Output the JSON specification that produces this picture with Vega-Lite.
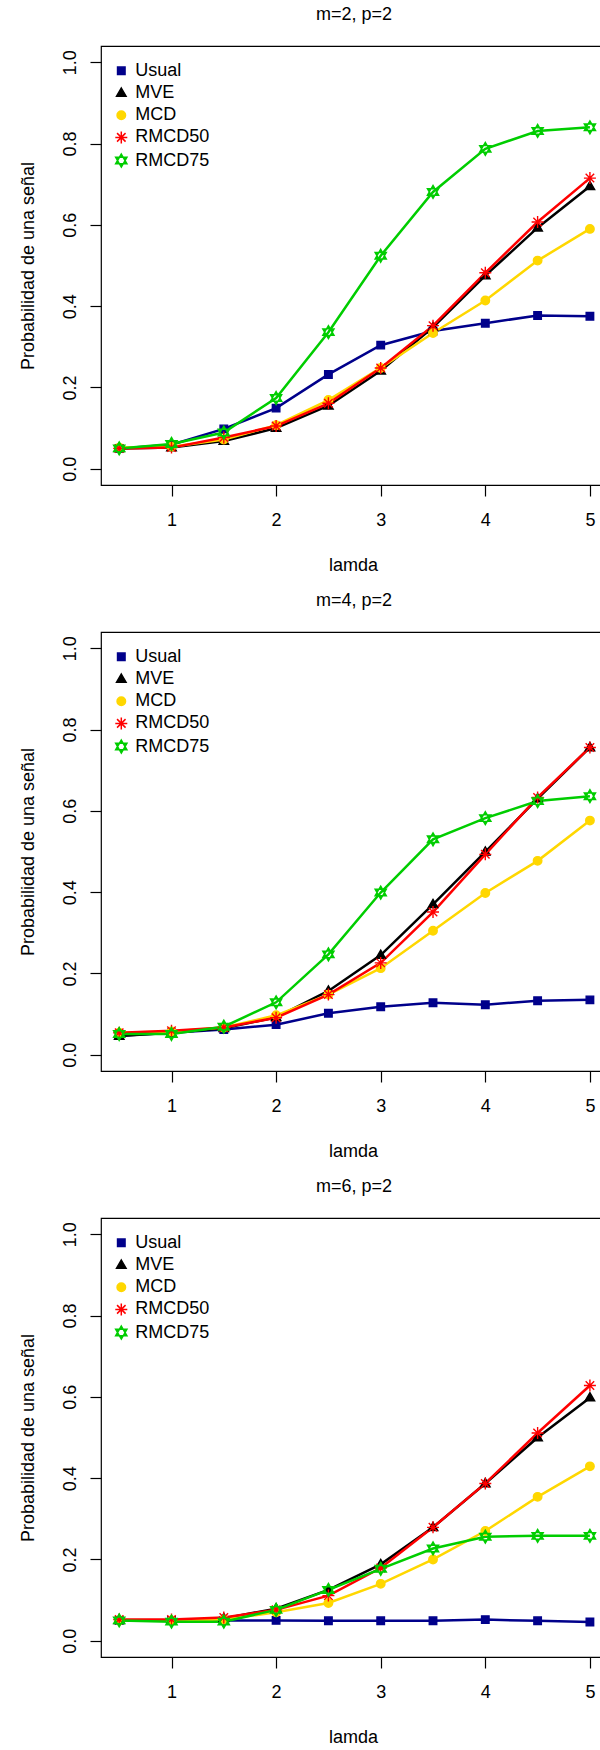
{
  "$schema": "https://vega.github.io/schema/vega-lite/v6.json",
  "padding": {"left": 18, "top": 5, "right": 0, "bottom": 0},
  "background": "white",
  "spacing": 16,
  "config": {
    "font": "Liberation Sans",
    "view": {"stroke": "black", "strokeWidth": 1.2},
    "axis": {"grid": false, "domain": false, "tickColor": "black", "tickWidth": 1.2, "tickSize": 11, "labelFontSize": 18, "titleFontSize": 18, "labelColor": "black", "titleColor": "black", "titleFontWeight": "normal", "labelFont": "Liberation Sans", "titleFont": "Liberation Sans"},
    "title": {"fontSize": 18, "fontWeight": "normal", "offset": 22, "color": "black", "font": "Liberation Sans", "anchor": "middle", "frame": "group", "dx": 3},
    "legend": {"symbolStrokeWidth": 1.5, "labelFontSize": 18, "labelColor": "black", "labelFont": "Liberation Sans", "title": null}
  },
  "resolve": {"scale": {"color": "independent", "stroke": "independent", "shape": "independent", "fillOpacity": "independent"}, "legend": {"color": "independent", "stroke": "independent", "shape": "independent", "fillOpacity": "independent"}},
  "datasets": {
    "d": [
      {"panel": 1, "series": "Usual", "lamda": 0.5, "prob": 0.050},
      {"panel": 1, "series": "Usual", "lamda": 1.0, "prob": 0.059},
      {"panel": 1, "series": "Usual", "lamda": 1.5, "prob": 0.098},
      {"panel": 1, "series": "Usual", "lamda": 2.0, "prob": 0.149},
      {"panel": 1, "series": "Usual", "lamda": 2.5, "prob": 0.232},
      {"panel": 1, "series": "Usual", "lamda": 3.0, "prob": 0.304},
      {"panel": 1, "series": "Usual", "lamda": 3.5, "prob": 0.339},
      {"panel": 1, "series": "Usual", "lamda": 4.0, "prob": 0.358},
      {"panel": 1, "series": "Usual", "lamda": 4.5, "prob": 0.377},
      {"panel": 1, "series": "Usual", "lamda": 5.0, "prob": 0.375},
      {"panel": 1, "series": "MVE", "lamda": 0.5, "prob": 0.050},
      {"panel": 1, "series": "MVE", "lamda": 1.0, "prob": 0.052},
      {"panel": 1, "series": "MVE", "lamda": 1.5, "prob": 0.068},
      {"panel": 1, "series": "MVE", "lamda": 2.0, "prob": 0.100},
      {"panel": 1, "series": "MVE", "lamda": 2.5, "prob": 0.155},
      {"panel": 1, "series": "MVE", "lamda": 3.0, "prob": 0.241},
      {"panel": 1, "series": "MVE", "lamda": 3.5, "prob": 0.348},
      {"panel": 1, "series": "MVE", "lamda": 4.0, "prob": 0.475},
      {"panel": 1, "series": "MVE", "lamda": 4.5, "prob": 0.593},
      {"panel": 1, "series": "MVE", "lamda": 5.0, "prob": 0.695},
      {"panel": 1, "series": "MCD", "lamda": 0.5, "prob": 0.052},
      {"panel": 1, "series": "MCD", "lamda": 1.0, "prob": 0.054},
      {"panel": 1, "series": "MCD", "lamda": 1.5, "prob": 0.072},
      {"panel": 1, "series": "MCD", "lamda": 2.0, "prob": 0.107},
      {"panel": 1, "series": "MCD", "lamda": 2.5, "prob": 0.169},
      {"panel": 1, "series": "MCD", "lamda": 3.0, "prob": 0.248},
      {"panel": 1, "series": "MCD", "lamda": 3.5, "prob": 0.334},
      {"panel": 1, "series": "MCD", "lamda": 4.0, "prob": 0.414},
      {"panel": 1, "series": "MCD", "lamda": 4.5, "prob": 0.512},
      {"panel": 1, "series": "MCD", "lamda": 5.0, "prob": 0.590},
      {"panel": 1, "series": "RMCD50", "lamda": 0.5, "prob": 0.050},
      {"panel": 1, "series": "RMCD50", "lamda": 1.0, "prob": 0.052},
      {"panel": 1, "series": "RMCD50", "lamda": 1.5, "prob": 0.077},
      {"panel": 1, "series": "RMCD50", "lamda": 2.0, "prob": 0.105},
      {"panel": 1, "series": "RMCD50", "lamda": 2.5, "prob": 0.161},
      {"panel": 1, "series": "RMCD50", "lamda": 3.0, "prob": 0.248},
      {"panel": 1, "series": "RMCD50", "lamda": 3.5, "prob": 0.352},
      {"panel": 1, "series": "RMCD50", "lamda": 4.0, "prob": 0.482},
      {"panel": 1, "series": "RMCD50", "lamda": 4.5, "prob": 0.607},
      {"panel": 1, "series": "RMCD50", "lamda": 5.0, "prob": 0.715},
      {"panel": 1, "series": "RMCD75", "lamda": 0.5, "prob": 0.050},
      {"panel": 1, "series": "RMCD75", "lamda": 1.0, "prob": 0.061},
      {"panel": 1, "series": "RMCD75", "lamda": 1.5, "prob": 0.089},
      {"panel": 1, "series": "RMCD75", "lamda": 2.0, "prob": 0.174},
      {"panel": 1, "series": "RMCD75", "lamda": 2.5, "prob": 0.336},
      {"panel": 1, "series": "RMCD75", "lamda": 3.0, "prob": 0.524},
      {"panel": 1, "series": "RMCD75", "lamda": 3.5, "prob": 0.681},
      {"panel": 1, "series": "RMCD75", "lamda": 4.0, "prob": 0.787},
      {"panel": 1, "series": "RMCD75", "lamda": 4.5, "prob": 0.831},
      {"panel": 1, "series": "RMCD75", "lamda": 5.0, "prob": 0.840},
      {"panel": 2, "series": "Usual", "lamda": 0.5, "prob": 0.047},
      {"panel": 2, "series": "Usual", "lamda": 1.0, "prob": 0.054},
      {"panel": 2, "series": "Usual", "lamda": 1.5, "prob": 0.062},
      {"panel": 2, "series": "Usual", "lamda": 2.0, "prob": 0.074},
      {"panel": 2, "series": "Usual", "lamda": 2.5, "prob": 0.102},
      {"panel": 2, "series": "Usual", "lamda": 3.0, "prob": 0.118},
      {"panel": 2, "series": "Usual", "lamda": 3.5, "prob": 0.128},
      {"panel": 2, "series": "Usual", "lamda": 4.0, "prob": 0.123},
      {"panel": 2, "series": "Usual", "lamda": 4.5, "prob": 0.133},
      {"panel": 2, "series": "Usual", "lamda": 5.0, "prob": 0.135},
      {"panel": 2, "series": "MVE", "lamda": 0.5, "prob": 0.046},
      {"panel": 2, "series": "MVE", "lamda": 1.0, "prob": 0.054},
      {"panel": 2, "series": "MVE", "lamda": 1.5, "prob": 0.065},
      {"panel": 2, "series": "MVE", "lamda": 2.0, "prob": 0.092},
      {"panel": 2, "series": "MVE", "lamda": 2.5, "prob": 0.157},
      {"panel": 2, "series": "MVE", "lamda": 3.0, "prob": 0.245},
      {"panel": 2, "series": "MVE", "lamda": 3.5, "prob": 0.370},
      {"panel": 2, "series": "MVE", "lamda": 4.0, "prob": 0.499},
      {"panel": 2, "series": "MVE", "lamda": 4.5, "prob": 0.630},
      {"panel": 2, "series": "MVE", "lamda": 5.0, "prob": 0.756},
      {"panel": 2, "series": "MCD", "lamda": 0.5, "prob": 0.054},
      {"panel": 2, "series": "MCD", "lamda": 1.0, "prob": 0.057},
      {"panel": 2, "series": "MCD", "lamda": 1.5, "prob": 0.067},
      {"panel": 2, "series": "MCD", "lamda": 2.0, "prob": 0.097},
      {"panel": 2, "series": "MCD", "lamda": 2.5, "prob": 0.148},
      {"panel": 2, "series": "MCD", "lamda": 3.0, "prob": 0.213},
      {"panel": 2, "series": "MCD", "lamda": 3.5, "prob": 0.305},
      {"panel": 2, "series": "MCD", "lamda": 4.0, "prob": 0.398},
      {"panel": 2, "series": "MCD", "lamda": 4.5, "prob": 0.477},
      {"panel": 2, "series": "MCD", "lamda": 5.0, "prob": 0.576},
      {"panel": 2, "series": "RMCD50", "lamda": 0.5, "prob": 0.054},
      {"panel": 2, "series": "RMCD50", "lamda": 1.0, "prob": 0.059},
      {"panel": 2, "series": "RMCD50", "lamda": 1.5, "prob": 0.067},
      {"panel": 2, "series": "RMCD50", "lamda": 2.0, "prob": 0.091},
      {"panel": 2, "series": "RMCD50", "lamda": 2.5, "prob": 0.148},
      {"panel": 2, "series": "RMCD50", "lamda": 3.0, "prob": 0.226},
      {"panel": 2, "series": "RMCD50", "lamda": 3.5, "prob": 0.351},
      {"panel": 2, "series": "RMCD50", "lamda": 4.0, "prob": 0.493},
      {"panel": 2, "series": "RMCD50", "lamda": 4.5, "prob": 0.633},
      {"panel": 2, "series": "RMCD50", "lamda": 5.0, "prob": 0.756},
      {"panel": 2, "series": "RMCD75", "lamda": 0.5, "prob": 0.051},
      {"panel": 2, "series": "RMCD75", "lamda": 1.0, "prob": 0.051},
      {"panel": 2, "series": "RMCD75", "lamda": 1.5, "prob": 0.069},
      {"panel": 2, "series": "RMCD75", "lamda": 2.0, "prob": 0.129},
      {"panel": 2, "series": "RMCD75", "lamda": 2.5, "prob": 0.247},
      {"panel": 2, "series": "RMCD75", "lamda": 3.0, "prob": 0.399},
      {"panel": 2, "series": "RMCD75", "lamda": 3.5, "prob": 0.530},
      {"panel": 2, "series": "RMCD75", "lamda": 4.0, "prob": 0.582},
      {"panel": 2, "series": "RMCD75", "lamda": 4.5, "prob": 0.624},
      {"panel": 2, "series": "RMCD75", "lamda": 5.0, "prob": 0.636},
      {"panel": 3, "series": "Usual", "lamda": 0.5, "prob": 0.050},
      {"panel": 3, "series": "Usual", "lamda": 1.0, "prob": 0.050},
      {"panel": 3, "series": "Usual", "lamda": 1.5, "prob": 0.050},
      {"panel": 3, "series": "Usual", "lamda": 2.0, "prob": 0.050},
      {"panel": 3, "series": "Usual", "lamda": 2.5, "prob": 0.049},
      {"panel": 3, "series": "Usual", "lamda": 3.0, "prob": 0.049},
      {"panel": 3, "series": "Usual", "lamda": 3.5, "prob": 0.049},
      {"panel": 3, "series": "Usual", "lamda": 4.0, "prob": 0.052},
      {"panel": 3, "series": "Usual", "lamda": 4.5, "prob": 0.049},
      {"panel": 3, "series": "Usual", "lamda": 5.0, "prob": 0.046},
      {"panel": 3, "series": "MVE", "lamda": 0.5, "prob": 0.050},
      {"panel": 3, "series": "MVE", "lamda": 1.0, "prob": 0.050},
      {"panel": 3, "series": "MVE", "lamda": 1.5, "prob": 0.055},
      {"panel": 3, "series": "MVE", "lamda": 2.0, "prob": 0.079},
      {"panel": 3, "series": "MVE", "lamda": 2.5, "prob": 0.125},
      {"panel": 3, "series": "MVE", "lamda": 3.0, "prob": 0.188},
      {"panel": 3, "series": "MVE", "lamda": 3.5, "prob": 0.279},
      {"panel": 3, "series": "MVE", "lamda": 4.0, "prob": 0.387},
      {"panel": 3, "series": "MVE", "lamda": 4.5, "prob": 0.500},
      {"panel": 3, "series": "MVE", "lamda": 5.0, "prob": 0.598},
      {"panel": 3, "series": "MCD", "lamda": 0.5, "prob": 0.050},
      {"panel": 3, "series": "MCD", "lamda": 1.0, "prob": 0.050},
      {"panel": 3, "series": "MCD", "lamda": 1.5, "prob": 0.052},
      {"panel": 3, "series": "MCD", "lamda": 2.0, "prob": 0.070},
      {"panel": 3, "series": "MCD", "lamda": 2.5, "prob": 0.093},
      {"panel": 3, "series": "MCD", "lamda": 3.0, "prob": 0.140},
      {"panel": 3, "series": "MCD", "lamda": 3.5, "prob": 0.200},
      {"panel": 3, "series": "MCD", "lamda": 4.0, "prob": 0.270},
      {"panel": 3, "series": "MCD", "lamda": 4.5, "prob": 0.354},
      {"panel": 3, "series": "MCD", "lamda": 5.0, "prob": 0.429},
      {"panel": 3, "series": "RMCD50", "lamda": 0.5, "prob": 0.052},
      {"panel": 3, "series": "RMCD50", "lamda": 1.0, "prob": 0.052},
      {"panel": 3, "series": "RMCD50", "lamda": 1.5, "prob": 0.057},
      {"panel": 3, "series": "RMCD50", "lamda": 2.0, "prob": 0.076},
      {"panel": 3, "series": "RMCD50", "lamda": 2.5, "prob": 0.111},
      {"panel": 3, "series": "RMCD50", "lamda": 3.0, "prob": 0.179},
      {"panel": 3, "series": "RMCD50", "lamda": 3.5, "prob": 0.279},
      {"panel": 3, "series": "RMCD50", "lamda": 4.0, "prob": 0.387},
      {"panel": 3, "series": "RMCD50", "lamda": 4.5, "prob": 0.511},
      {"panel": 3, "series": "RMCD50", "lamda": 5.0, "prob": 0.628},
      {"panel": 3, "series": "RMCD75", "lamda": 0.5, "prob": 0.050},
      {"panel": 3, "series": "RMCD75", "lamda": 1.0, "prob": 0.047},
      {"panel": 3, "series": "RMCD75", "lamda": 1.5, "prob": 0.047},
      {"panel": 3, "series": "RMCD75", "lamda": 2.0, "prob": 0.076},
      {"panel": 3, "series": "RMCD75", "lamda": 2.5, "prob": 0.125},
      {"panel": 3, "series": "RMCD75", "lamda": 3.0, "prob": 0.177},
      {"panel": 3, "series": "RMCD75", "lamda": 3.5, "prob": 0.227},
      {"panel": 3, "series": "RMCD75", "lamda": 4.0, "prob": 0.256},
      {"panel": 3, "series": "RMCD75", "lamda": 4.5, "prob": 0.258},
      {"panel": 3, "series": "RMCD75", "lamda": 5.0, "prob": 0.258}
    ]
  },
  "vconcat": [
    {
      "width": 500, "height": 439,
      "title": {"text": "m=2, p=2"},
      "data": {"name": "d"},
      "transform": [{"filter": "datum.panel == 1"}],
      "encoding": {
        "x": {"field": "lamda", "type": "quantitative", "scale": {"domain": [0.326, 5.106], "nice": false, "zero": false}, "axis": {"values": [1, 2, 3, 4, 5], "format": "d", "title": "lamda", "labelPadding": 15, "titlePadding": 27, "titleX": 252}},
        "y": {"field": "prob", "type": "quantitative", "scale": {"domain": [-0.04, 1.04], "nice": false, "zero": false}, "axis": {"values": [0, 0.2, 0.4, 0.6, 0.8, 1.0], "format": ".1f", "labelAngle": -90, "labelAlign": "center", "labelBaseline": "bottom", "labelPadding": 11, "title": "Probabilidad de una señal", "titlePadding": 24}},
        "color": {"field": "series", "type": "nominal", "scale": {"domain": ["Usual", "MVE", "MCD", "RMCD50", "RMCD75"], "range": ["#00008B", "#000000", "#FFD700", "#FF0000", "#00CD00"]}, "legend": {"title": null, "orient": "none", "legendX": 11.3, "legendY": 15.8, "padding": 0, "symbolSize": 100, "rowPadding": 4.2, "labelOffset": 5, "labelFontSize": 18}}
      },
      "layer": [
        {"mark": {"type": "line", "strokeWidth": 2.5, "clip": true}},
        {"mark": {"type": "point", "filled": true, "size": 100, "strokeWidth": 1.4, "opacity": 1, "clip": true},
         "encoding": {
           "stroke": {"field": "series", "type": "nominal", "scale": {"domain": ["Usual", "MVE", "MCD", "RMCD50", "RMCD75"], "range": ["#00008B", "#000000", "#FFD700", "#FF0000", "#00CD00"]}, "legend": {"title": null}},
           "shape": {"field": "series", "type": "nominal", "scale": {"domain": ["Usual", "MVE", "MCD", "RMCD50", "RMCD75"], "range": ["M-0.75,-0.75H0.75V0.75H-0.75Z", "M0,-1L0.95,0.65L-0.95,0.65Z", "M0.85,0A0.85,0.85 0 1,1 -0.85,0A0.85,0.85 0 1,1 0.85,0Z", "M0,-1.2L0,1.2M-1.2,0L1.2,0M-0.85,-0.85L0.85,0.85M-0.85,0.85L0.85,-0.85", "M0,-1.3L1.126,0.65L-1.126,0.65ZM0,1.3L1.126,-0.65L-1.126,-0.65Z"]}, "legend": {"title": null}},
           "fillOpacity": {"field": "series", "type": "nominal", "scale": {"domain": ["Usual", "MVE", "MCD", "RMCD50", "RMCD75"], "range": [1, 1, 1, 1, 0]}, "legend": {"title": null}}
         }}
      ]
    },
    {
      "width": 500, "height": 439,
      "title": {"text": "m=4, p=2"},
      "data": {"name": "d"},
      "transform": [{"filter": "datum.panel == 2"}],
      "encoding": {
        "x": {"field": "lamda", "type": "quantitative", "scale": {"domain": [0.326, 5.106], "nice": false, "zero": false}, "axis": {"values": [1, 2, 3, 4, 5], "format": "d", "title": "lamda", "labelPadding": 15, "titlePadding": 27, "titleX": 252}},
        "y": {"field": "prob", "type": "quantitative", "scale": {"domain": [-0.04, 1.04], "nice": false, "zero": false}, "axis": {"values": [0, 0.2, 0.4, 0.6, 0.8, 1.0], "format": ".1f", "labelAngle": -90, "labelAlign": "center", "labelBaseline": "bottom", "labelPadding": 11, "title": "Probabilidad de una señal", "titlePadding": 24}},
        "color": {"field": "series", "type": "nominal", "scale": {"domain": ["Usual", "MVE", "MCD", "RMCD50", "RMCD75"], "range": ["#00008B", "#000000", "#FFD700", "#FF0000", "#00CD00"]}, "legend": {"title": null, "orient": "none", "legendX": 11.3, "legendY": 15.8, "padding": 0, "symbolSize": 100, "rowPadding": 4.2, "labelOffset": 5, "labelFontSize": 18}}
      },
      "layer": [
        {"mark": {"type": "line", "strokeWidth": 2.5, "clip": true}},
        {"mark": {"type": "point", "filled": true, "size": 100, "strokeWidth": 1.4, "opacity": 1, "clip": true},
         "encoding": {
           "stroke": {"field": "series", "type": "nominal", "scale": {"domain": ["Usual", "MVE", "MCD", "RMCD50", "RMCD75"], "range": ["#00008B", "#000000", "#FFD700", "#FF0000", "#00CD00"]}, "legend": {"title": null}},
           "shape": {"field": "series", "type": "nominal", "scale": {"domain": ["Usual", "MVE", "MCD", "RMCD50", "RMCD75"], "range": ["M-0.75,-0.75H0.75V0.75H-0.75Z", "M0,-1L0.95,0.65L-0.95,0.65Z", "M0.85,0A0.85,0.85 0 1,1 -0.85,0A0.85,0.85 0 1,1 0.85,0Z", "M0,-1.2L0,1.2M-1.2,0L1.2,0M-0.85,-0.85L0.85,0.85M-0.85,0.85L0.85,-0.85", "M0,-1.3L1.126,0.65L-1.126,0.65ZM0,1.3L1.126,-0.65L-1.126,-0.65Z"]}, "legend": {"title": null}},
           "fillOpacity": {"field": "series", "type": "nominal", "scale": {"domain": ["Usual", "MVE", "MCD", "RMCD50", "RMCD75"], "range": [1, 1, 1, 1, 0]}, "legend": {"title": null}}
         }}
      ]
    },
    {
      "width": 500, "height": 439,
      "title": {"text": "m=6, p=2"},
      "data": {"name": "d"},
      "transform": [{"filter": "datum.panel == 3"}],
      "encoding": {
        "x": {"field": "lamda", "type": "quantitative", "scale": {"domain": [0.326, 5.106], "nice": false, "zero": false}, "axis": {"values": [1, 2, 3, 4, 5], "format": "d", "title": "lamda", "labelPadding": 15, "titlePadding": 27, "titleX": 252}},
        "y": {"field": "prob", "type": "quantitative", "scale": {"domain": [-0.04, 1.04], "nice": false, "zero": false}, "axis": {"values": [0, 0.2, 0.4, 0.6, 0.8, 1.0], "format": ".1f", "labelAngle": -90, "labelAlign": "center", "labelBaseline": "bottom", "labelPadding": 11, "title": "Probabilidad de una señal", "titlePadding": 24}},
        "color": {"field": "series", "type": "nominal", "scale": {"domain": ["Usual", "MVE", "MCD", "RMCD50", "RMCD75"], "range": ["#00008B", "#000000", "#FFD700", "#FF0000", "#00CD00"]}, "legend": {"title": null, "orient": "none", "legendX": 11.3, "legendY": 15.8, "padding": 0, "symbolSize": 100, "rowPadding": 4.2, "labelOffset": 5, "labelFontSize": 18}}
      },
      "layer": [
        {"mark": {"type": "line", "strokeWidth": 2.5, "clip": true}},
        {"mark": {"type": "point", "filled": true, "size": 100, "strokeWidth": 1.4, "opacity": 1, "clip": true},
         "encoding": {
           "stroke": {"field": "series", "type": "nominal", "scale": {"domain": ["Usual", "MVE", "MCD", "RMCD50", "RMCD75"], "range": ["#00008B", "#000000", "#FFD700", "#FF0000", "#00CD00"]}, "legend": {"title": null}},
           "shape": {"field": "series", "type": "nominal", "scale": {"domain": ["Usual", "MVE", "MCD", "RMCD50", "RMCD75"], "range": ["M-0.75,-0.75H0.75V0.75H-0.75Z", "M0,-1L0.95,0.65L-0.95,0.65Z", "M0.85,0A0.85,0.85 0 1,1 -0.85,0A0.85,0.85 0 1,1 0.85,0Z", "M0,-1.2L0,1.2M-1.2,0L1.2,0M-0.85,-0.85L0.85,0.85M-0.85,0.85L0.85,-0.85", "M0,-1.3L1.126,0.65L-1.126,0.65ZM0,1.3L1.126,-0.65L-1.126,-0.65Z"]}, "legend": {"title": null}},
           "fillOpacity": {"field": "series", "type": "nominal", "scale": {"domain": ["Usual", "MVE", "MCD", "RMCD50", "RMCD75"], "range": [1, 1, 1, 1, 0]}, "legend": {"title": null}}
         }}
      ]
    }
  ]
}
